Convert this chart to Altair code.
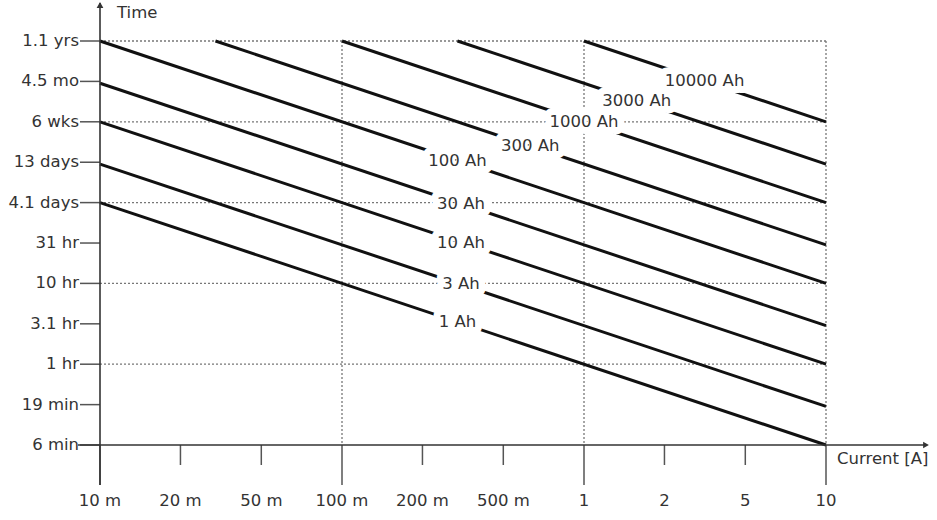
import altair as alt
import pandas as pd

# ---- data ----
capacities = ["1 Ah", "3 Ah", "10 Ah", "30 Ah", "100 Ah", "300 Ah", "1000 Ah", "3000 Ah", "10000 Ah"]
start_current = [0.01, 0.01, 0.01, 0.01, 0.01, 0.03, 0.1, 0.3, 1.0]      # A
start_time = [100, 300, 1000, 3000, 10000, 10000, 10000, 10000, 10000]   # hours
end_current = [10, 10, 10, 10, 10, 10, 10, 10, 10]                      # A
end_time = [0.1, 0.3, 1, 3, 10, 30, 100, 300, 1000]                     # hours

label_current = [0.3, 0.31, 0.31, 0.31, 0.3, 0.6, 1.0, 1.65, 3.15]
label_time = [3.3, 9.7, 32, 97, 330, 500, 1000, 1820, 3170]

# tick positions as drawn in the reference (labels sit at thirds of each decade)
x_tick_values = [0.01, 0.0215, 0.0464, 0.1, 0.215, 0.464, 1, 2.15, 4.64, 10]
x_tick_labels = ["10 m", "20 m", "50 m", "100 m", "200 m", "500 m", "1", "2", "5", "10"]
x_major = [0.01, 0.1, 1, 10]
x_minor = [0.0215, 0.0464, 0.215, 0.464, 2.15, 4.64]

y_tick_values = [10000, 3162, 1000, 316, 100, 31.6, 10, 3.16, 1, 0.316, 0.1]
y_tick_labels = ["1.1 yrs", "4.5 mo", "6 wks", "13 days", "4.1 days", "31 hr",
                 "10 hr", "3.1 hr", "1 hr", "19 min", "6 min"]
y_grid = [10000, 1000, 100, 10, 1]
x_grid = [0.1, 1, 10]

# ---- tables ----
rows = []
for c, i0, t0, i1, t1 in zip(capacities, start_current, start_time, end_current, end_time):
    rows.append({"cap": c, "I": i0, "t": t0})
    rows.append({"cap": c, "I": i1, "t": t1})
lines_df = pd.DataFrame(rows)
labels_df = pd.DataFrame({"cap": capacities, "I": label_current, "t": label_time})
xt_df = pd.DataFrame({"I": x_tick_values, "lab": x_tick_labels})
yt_df = pd.DataFrame({"t": y_tick_values, "lab": y_tick_labels})

W, H = 726, 404
FONT = "DejaVu Sans"
FS = 16.5
TXT = "#333333"

xs = alt.Scale(type="log", domain=[0.01, 10])
ys = alt.Scale(type="log", domain=[0.1, 10000])
X = lambda f: alt.X(f, type="quantitative", scale=xs, axis=None)
Y = lambda f: alt.Y(f, type="quantitative", scale=ys, axis=None)

hgrid = alt.Chart(pd.DataFrame({"t": y_grid})).mark_rule(
    color="#777777", strokeDash=[2, 2], strokeWidth=1.3
).encode(y=Y("t"), x=alt.value(0), x2=alt.value(W))

vgrid = alt.Chart(pd.DataFrame({"I": x_grid})).mark_rule(
    color="#777777", strokeDash=[2, 2], strokeWidth=1.3
).encode(x=X("I"), y=alt.value(0), y2=alt.value(H))

major_ticks = alt.Chart(pd.DataFrame({"I": x_major})).mark_rule(
    color="#555555", strokeWidth=1.5
).encode(x=X("I"), y=alt.value(H), y2=alt.value(H + 40))

minor_ticks = alt.Chart(pd.DataFrame({"I": x_minor})).mark_rule(
    color="#555555", strokeWidth=1.5
).encode(x=X("I"), y=alt.value(H), y2=alt.value(H + 20))

y_ticks = alt.Chart(yt_df).mark_rule(color="#555555", strokeWidth=1.5).encode(
    y=Y("t"), x=alt.value(-20), x2=alt.value(0)
)

x_labels = alt.Chart(xt_df).mark_text(
    font=FONT, fontSize=FS, color=TXT, baseline="middle", align="center"
).encode(x=X("I"), y=alt.value(H + 56), text="lab:N")

y_labels = alt.Chart(yt_df).mark_text(
    font=FONT, fontSize=FS, color=TXT, baseline="middle", align="right"
).encode(y=Y("t"), x=alt.value(-21), text="lab:N")

y_axis_line = alt.Chart(pd.DataFrame({"a": [0]})).mark_rule(
    color="#333333", strokeWidth=1.6
).encode(x=alt.value(0), y=alt.value(-38), y2=alt.value(H + 40))

x_axis_line = alt.Chart(pd.DataFrame({"a": [0]})).mark_rule(
    color="#333333", strokeWidth=1.6
).encode(y=alt.value(H), x=alt.value(-22), x2=alt.value(W + 100))

y_arrow = alt.Chart(pd.DataFrame({"a": [0]})).mark_point(
    shape="triangle-up", filled=True, color="#333333", size=45, opacity=1
).encode(x=alt.value(0), y=alt.value(-36))

x_arrow = alt.Chart(pd.DataFrame({"a": [0]})).mark_point(
    shape="triangle-right", filled=True, color="#333333", size=45, opacity=1
).encode(x=alt.value(W + 100), y=alt.value(H))

time_title = alt.Chart(pd.DataFrame({"s": ["Time"]})).mark_text(
    font=FONT, fontSize=FS, color=TXT, align="left", baseline="middle"
).encode(x=alt.value(17), y=alt.value(-28), text="s:N")

current_title = alt.Chart(pd.DataFrame({"s": ["Current [A]"]})).mark_text(
    font=FONT, fontSize=FS, color=TXT, align="left", baseline="middle"
).encode(x=alt.value(W + 11), y=alt.value(H + 14), text="s:N")

lines = alt.Chart(lines_df).mark_line(color="#111111", strokeWidth=3).encode(
    x=X("I"), y=Y("t"), detail="cap:N"
)

label_halo = alt.Chart(labels_df).mark_text(
    font=FONT, fontSize=FS, color="white", stroke="white", strokeWidth=14,
    strokeJoin="round", baseline="middle", align="center"
).encode(x=X("I"), y=Y("t"), text="cap:N")

label_text = alt.Chart(labels_df).mark_text(
    font=FONT, fontSize=FS, color=TXT, baseline="middle", align="center"
).encode(x=X("I"), y=Y("t"), text="cap:N")

chart = alt.layer(
    hgrid, vgrid, major_ticks, minor_ticks, y_ticks, x_labels, y_labels,
    lines, label_halo, label_text,
    y_axis_line, x_axis_line, y_arrow, x_arrow, time_title, current_title
).properties(
    width=W, height=H,
    autosize=alt.AutoSizeParams(type="none"),
    padding={"left": 100, "top": 41, "right": 111, "bottom": 75},
    background="white",
).configure_view(stroke=None)

chart.save("out.html", embed_options={"renderer": "svg", "actions": False})
